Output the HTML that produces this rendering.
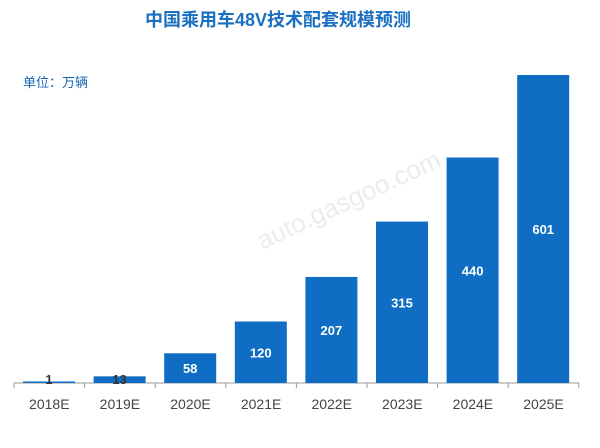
<!DOCTYPE html>
<html><head><meta charset="utf-8"><style>
body{margin:0;background:#fff;width:600px;height:443px;overflow:hidden;font-family:"Liberation Sans","Noto Sans CJK SC",sans-serif;}
</style></head><body>
<svg width="600" height="443" xmlns="http://www.w3.org/2000/svg">
<text x="278" y="26" text-anchor="middle" font-size="18" font-weight="bold" fill="#1a6fc0" font-family="Liberation Sans, Noto Sans CJK SC, sans-serif">中国乘用车48V技术配套规模预测</text>
<text x="23" y="87" font-size="13" fill="#1565b0" font-family="Liberation Sans, Noto Sans CJK SC, sans-serif">单位：万辆</text>
<text x="262" y="250" font-size="26" fill="#ececec" transform="rotate(-25 262 250)">auto.gasgoo.com</text>
<g id="plot"></g>
</svg>
<script>
const categories=["2018E","2019E","2020E","2021E","2022E","2023E","2024E","2025E"];
const values=[1,13,58,120,207,315,440,601];
const valueLabels=["1","13","58","120","207","315","440","601"];
const x0=14,cw=70.6,bw=52,base=383,scale=308/601;
const g=document.getElementById('plot');
const ns="http://www.w3.org/2000/svg";
function xS(i){return x0+i*cw;}
function yS(v){return base-v*scale;}
function mk(t,a){const e=document.createElementNS(ns,t);for(const k in a)e.setAttribute(k,a[k]);g.appendChild(e);return e;}
const ax=mk('line',{x1:x0,x2:x0+cw*categories.length,y1:base,y2:base,stroke:'#999','stroke-width':1});


for(let i=0;i<=categories.length;i++){
 const t=mk('line',{x1:xS(i),x2:xS(i),y1:base,y2:base+5,stroke:'#999'});
 
 
}
categories.forEach((c,i)=>{
 const v=values[i],y=yS(v),h=Math.max(base-y,1.5);
 const r=mk('rect',{x:xS(i)+9,y:base-h,width:bw,height:h,fill:'#0f6ec4'});
 
 
 const small=h<20;
 const lt=mk('text',{x:xS(i)+9+bw/2,y:small?base+1:(base-h/2+5),'text-anchor':'middle','font-size':13,'font-weight':'bold',fill:small?'#333':'#fff'});
 lt.textContent=valueLabels[i];
 
 
 const ct=mk('text',{x:xS(i)+cw/2,y:409,'text-anchor':'middle','font-size':14,fill:'#444'});
 ct.textContent=c;
 
 
});
</script>
</body></html>
